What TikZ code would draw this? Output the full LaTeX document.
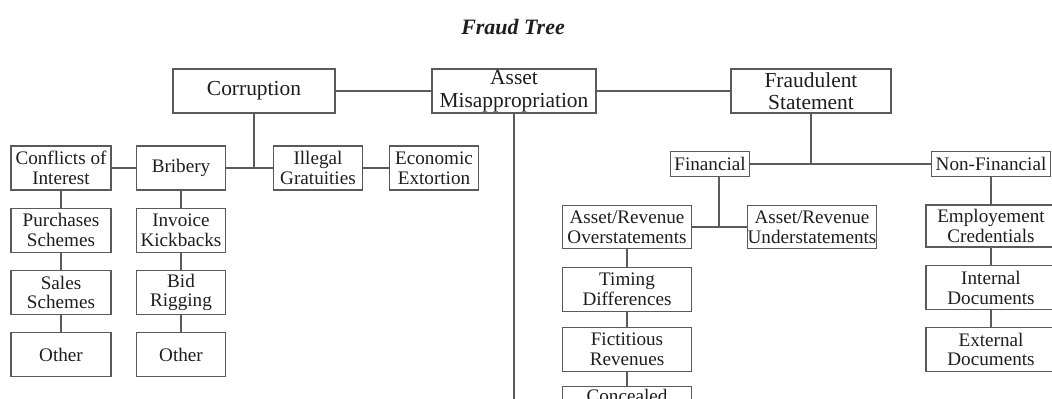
\documentclass[tikz,border=0pt]{standalone}
\usepackage{fontspec}
\setmainfont{Liberation Serif}
\usetikzlibrary{positioning}
\definecolor{linegray}{HTML}{5A5A5A}
\definecolor{inkblack}{HTML}{1E1E1E}

\begin{document}
\begin{tikzpicture}[x=0.02cm, y=-0.02cm, node distance=0.34cm,
	big/.style={draw=linegray, line width=0.7pt, text=inkblack, align=center, inner sep=0pt,
		minimum height=0.88cm, font=\fontsize{12.2}{12.8}\selectfont},
	small/.style={draw=linegray, line width=0.7pt, text=inkblack, align=center, inner sep=0pt,
		minimum height=0.88cm, font=\fontsize{10.9}{11.2}\selectfont},
	link/.style={draw=linegray, line width=0.7pt}]
			
			\useasboundingbox (0,0) rectangle (1052,399);
			\clip (0,0) rectangle (1052,399);
			\fill[white] (0,0) rectangle (1052,399);
			
			\node[text=inkblack, font=\fontsize{12.5}{13}\selectfont\bfseries\itshape] (title) at (513,27) {Fraud Tree};
			
			% top level
			\node[big, minimum width=3.24cm] (corr) at (254,91) {Corruption};
			\node[big, minimum width=3.28cm] (asset) at (514,91) {Asset\\Misappropriation};
			\node[big, minimum width=3.2cm] (fraud) at (811,91) {Fraudulent\\Statement};
			
			% corruption
			\node[small, minimum width=2cm] (coi) at (61,168) {Conflicts of\\Interest};
			\node[small, minimum width=1.78cm] (brib) at (181,168) {Bribery};
			\node[small, minimum width=1.78cm] (illeg) at (318,168) {Illegal\\Gratuities};
			\node[small, minimum width=1.78cm] (econ) at (434,168) {Economic\\Extortion};
			
			\node[small, minimum width=2cm, below=of coi] (purch) {Purchases\\Schemes};
			\node[small, minimum width=2cm, below=of purch] (sales) {Sales\\Schemes};
			\node[small, minimum width=2cm, below=of sales] (othera) {Other};
			
			\node[small, minimum width=1.78cm, below=of brib] (invoice) {Invoice\\Kickbacks};
			\node[small, minimum width=1.78cm, below=of invoice] (bid) {Bid\\Rigging};
			\node[small, minimum width=1.78cm, below=of bid] (otherb) {Other};
			
			\coordinate (assetend) at (514,405);
			
			% fraudulent statement
			\node[small, minimum width=1.58cm, minimum height=0.5cm] (fin) at (710,164) {Financial};
			\node[small, minimum width=2.38cm, minimum height=0.5cm] (nonfin) at (991,164) {Non-Financial};
			
			\node[small, minimum width=2.58cm, minimum height=0.86cm] (over) at (627,227) {Asset/Revenue\\Overstatements};
			\node[small, minimum width=2.58cm, minimum height=0.86cm] (under) at (812,227) {Asset/Revenue\\Understatements};
			\coordinate (finjoin) at (719,227);
			
			\node[small, minimum width=2.58cm, below=0.35cm of over] (timing) {Timing\\Differences};
			\node[small, minimum width=2.58cm, below=0.3cm of timing] (fict) {Fictitious\\Revenues};
			\node[small, minimum width=2.58cm, below=0.27cm of fict] (conc) {Concealed\\\strut};
			
			\node[small, minimum width=2.6cm, minimum height=0.84cm] (empl) at (991,226) {Employement\\Credentials};
			\node[small, minimum width=2.6cm, below=0.35cm of empl] (internal) {Internal\\Documents};
			\node[small, minimum width=2.6cm, below=0.33cm of internal] (external) {External\\Documents};
			
			% links
			\draw[link] (corr) -- (asset);
			\draw[link] (asset) -- (fraud);
			\draw[link] (asset.south) -- (assetend);
			
			\draw[link] (corr.south) -- (corr.south |- brib.east);
			\draw[link] (coi) -- (brib);
			\draw[link] (brib) -- (illeg);
			\draw[link] (illeg) -- (econ);
			\draw[link] (coi) -- (purch) (purch) -- (sales) (sales) -- (othera);
			\draw[link] (brib) -- (invoice) (invoice) -- (bid) (bid) -- (otherb);
			
			\draw[link] (fraud.south) -- (fraud.south |- fin.east);
			\draw[link] (fin) -- (nonfin);
			\draw[link] (fin.south -| finjoin) -- (finjoin);
			\draw[link] (over) -- (under);
			\draw[link] (over) -- (timing) (timing) -- (fict) (fict) -- (conc);
			\draw[link] (nonfin) -- (empl) (empl) -- (internal) (internal) -- (external);
			
\end{tikzpicture}
\end{document}
